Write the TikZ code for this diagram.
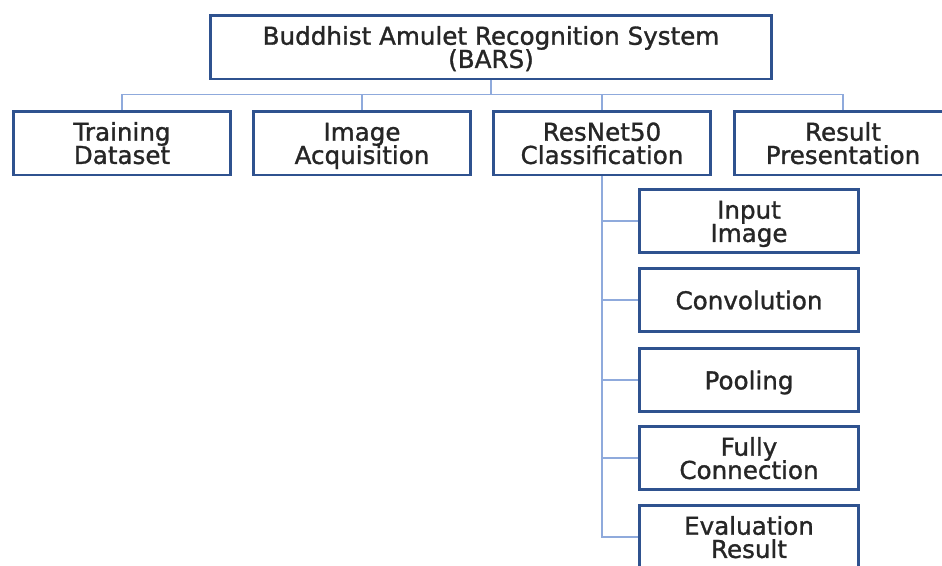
\documentclass[tikz,border=0pt]{standalone}
\usepackage{fontspec}
\setmainfont{DejaVu Sans}
\newfontfamily\boxfam{DejaVu Sans}[FakeBold=1.2]
\definecolor{boxblue}{RGB}{47,82,143}
\definecolor{linkblue}{RGB}{143,170,220}
\newcommand{\boxfont}{\boxfam\fontsize{14}{13.2}\selectfont\lineskiplimit=-20pt\relax}
\newcommand{\twoline}[2]{\rule{0pt}{14.6pt}#1\\#2}
\begin{document}
\begin{tikzpicture}[x=0.02cm, y=-0.02cm,
        every node/.style={rectangle, draw=boxblue, line width=1.7pt, fill=white, align=center, text=black!85,
            font=\boxfont, inner sep=2pt,
            execute at begin node={\rule{0pt}{14.6pt}}, execute at end node={\rule[-4pt]{0pt}{0pt}}},
        mainbox/.style={minimum width=11.24cm, minimum height=1.28cm},
        partbox/.style={minimum width=4.36cm, minimum height=1.28cm},
        stepbox/.style={minimum width=4.38cm, minimum height=1.26cm},
        link/.style={draw=linkblue, line width=1.1pt}]
    \clip (0,0) rectangle (942,565);
    \fill[white] (0,0) rectangle (942,565);
    \node[mainbox] (bars) at (491, 47) {\twoline{Buddhist Amulet Recognition System}{(BARS)}};
    \node[partbox] (train) at (122, 143) {\twoline{Training}{Dataset}};
    \node[partbox] (acq) at (362, 143) {\twoline{Image}{Acquisition}};
    \node[partbox] (resnet) at (602, 143) {\twoline{ResNet50}{Classification}};
    \node[partbox] (result) at (843, 143) {\twoline{Result}{Presentation}};
    \node[stepbox] (input) at (749, 221) {\twoline{Input}{Image}};
    \node[stepbox] (conv) at (749, 300) {Convolution};
    \node[stepbox] (pool) at (749, 380) {Pooling};
    \node[stepbox] (fully) at (749, 458) {\twoline{Fully}{Connection}};
    \node[stepbox] (eval) at (749, 537) {\twoline{Evaluation}{Result}};
    \foreach \n in {train, acq, resnet, result}
        \draw[link] (bars.south) -- ++(0,14) -| (\n.north);
    \foreach \n in {input, conv, pool, fully, eval}
        \draw[link] (resnet.south) |- (\n.west);
\end{tikzpicture}
\end{document}
